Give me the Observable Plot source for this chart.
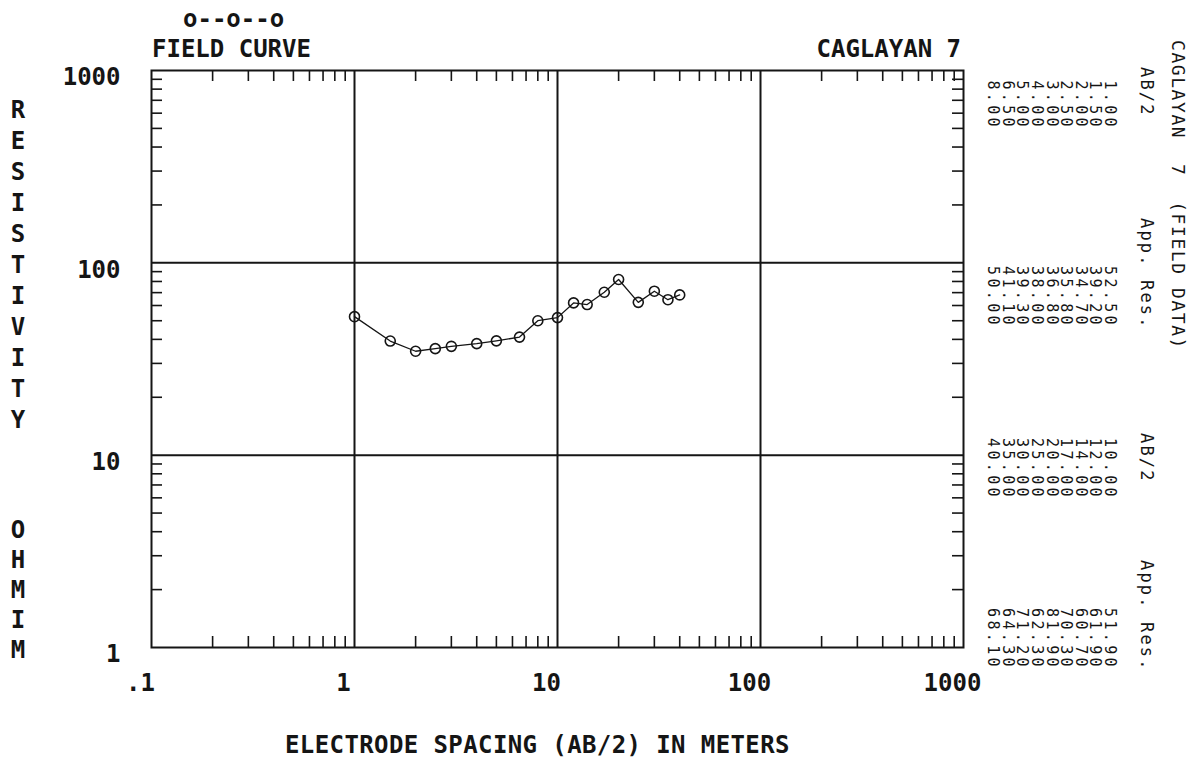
<!DOCTYPE html>
<html><head><meta charset="utf-8">
<script src="https://cdn.jsdelivr.net/npm/d3@7"></script>
<script src="https://cdn.jsdelivr.net/npm/@observablehq/plot@0.6"></script>
<style>
body{margin:0;background:#fff}
#chart svg{overflow:visible;display:block}
</style>
</head><body><div id="chart"></div>
<script>
// ---- data (read from the sheet) ----
const ab2 = [1.0, 1.5, 2.0, 2.5, 3.0, 4.0, 5.0, 6.5, 8.0, 10, 12, 14, 17, 20, 25, 30, 35, 40];
const appRes = [52.5, 39.2, 34.7, 35.8, 36.8, 38.0, 39.3, 41.1, 50.0, 51.9, 61.9, 60.7, 70.3, 81.9, 62.3, 71.2, 64.3, 68.1];
const xTicks = [0.1, 1, 10, 100, 1000];
const xTickLabels = [".1", "1", "10", "100", "1000"];
const yTicks = [1, 10, 100, 1000];
const yTickLabels = ["1", "10", "100", "1000"];
const xGrid = [1, 10, 100];
const yGrid = [10, 100];
const minorMult = [2, 3, 4, 5, 6, 7, 8, 9];
const xDecades = [0.1, 1, 10, 100];
const yDecades = [1, 10, 100];
const title = "CAGLAYAN 7";
const sheetTitle = "CAGLAYAN  7  (FIELD DATA)";
const legendText = "o--o--o";
const curveLabel = "FIELD CURVE";
const xLabel = "ELECTRODE SPACING (AB/2) IN METERS";
const yLabel1 = ["R","E","S","I","S","T","I","V","I","T","Y"];
const yLabel2 = ["O","H","M","I","M"];

const data = ab2.map((x, i) => ({x, y: appRes[i]}));
const minorX = xDecades.flatMap(d => minorMult.map(m => d * m));
const minorY = yDecades.flatMap(d => minorMult.map(m => d * m));

// ---- layout ----
const W = 1192, H = 764;
const mL = 151, mR = 229, mT = 70, mB = 117;
const innerW = W - mL - mR, innerH = H - mT - mB;
const ink = "#151515";
const font = "'DejaVu Sans Mono', 'Liberation Mono', monospace";
const tickLen = 11;

const plot = Plot.plot({
  width: W, height: H,
  marginLeft: mL, marginRight: mR, marginTop: mT, marginBottom: mB,
  style: {fontFamily: font, fontSize: "24px", fontWeight: "bold", color: ink, background: "#fff"},
  x: {type: "log", domain: [0.1, 1000]},
  y: {type: "log", domain: [1, 1000]},
  marks: [
    Plot.ruleX(xGrid, {stroke: ink, strokeWidth: 2}),
    Plot.ruleY(yGrid, {stroke: ink, strokeWidth: 2}),
    Plot.frame({stroke: ink, strokeWidth: 2}),
    // minor ticks, pointing inward on all four sides
    Plot.tickX(minorX, {x: d => d, insetTop: innerH - tickLen, stroke: ink, strokeWidth: 1.6}),
    Plot.tickX(minorX, {x: d => d, insetBottom: innerH - tickLen, stroke: ink, strokeWidth: 1.6}),
    Plot.tickY(minorY, {y: d => d, insetRight: innerW - tickLen, stroke: ink, strokeWidth: 1.6}),
    Plot.tickY(minorY, {y: d => d, insetLeft: innerW - tickLen, stroke: ink, strokeWidth: 1.6}),
    Plot.axisX(xTicks, {anchor: "bottom", tickSize: 0, tickPadding: 26, dx: -11, label: null,
      tickFormat: d => xTickLabels[xTicks.indexOf(d)], fontSize: 24}),
    Plot.axisY(yTicks, {anchor: "left", tickSize: 0, tickPadding: 31, dy: 7, label: null,
      tickFormat: d => yTickLabels[yTicks.indexOf(d)], fontSize: 24}),
    Plot.line(data, {x: "x", y: "y", stroke: ink, strokeWidth: 1.3}),
    Plot.dot(data, {x: "x", y: "y", r: 5, stroke: ink, strokeWidth: 1.6, fill: "none"})
  ]
});
document.getElementById("chart").appendChild(plot);

// ---- annotations ----
const svg = d3.select(plot);
const g = svg.append("g").attr("font-family", font).attr("fill", ink)
  .attr("text-anchor", "start").attr("font-weight", "bold");

function txt(x, y, s, size, anchor = "start", extra = {}) {
  const t = g.append("text").attr("x", x).attr("y", y).attr("font-size", size)
    .attr("text-anchor", anchor).text(s);
  for (const k in extra) t.attr(k, extra[k]);
  return t;
}

txt(183, 27, legendText, 24);
txt(152, 57, curveLabel, 24);
txt(961, 57, title, 24, "end");
txt(285, 753, xLabel, 24, "start", {"letter-spacing": 0.4});

yLabel1.forEach((c, i) => txt(18, 110 + i * 31, c, 24, "middle", {"dominant-baseline": "central"}));
yLabel2.forEach((c, i) => txt(18, 530 + i * 30, c, 24, "middle", {"dominant-baseline": "central"}));

// rotated data listing on the right (plotter text, reads top to bottom)
const adv = 12.4;
function rot(x, yStart, s, size) {
  const ls = adv - size * 0.602;
  g.append("text")
    .attr("transform", `translate(${x},${yStart}) rotate(90)`)
    .attr("text-anchor", "start")
    .attr("font-size", size)
    .attr("font-weight", "normal")
    .attr("letter-spacing", ls)
    .attr("dominant-baseline", "central")
    .style("white-space", "pre")
    .text(s);
}
rot(1178, 40, sheetTitle, 18);

const groups = [
  {label: "AB/2", start: 67, end: 130, vals: ab2.slice(0, 9)},
  {label: "App. Res.", start: 218, end: 328, vals: appRes.slice(0, 9)},
  {label: "AB/2", start: 433, end: 500, vals: ab2.slice(9)},
  {label: "App. Res.", start: 560, end: 670, vals: appRes.slice(9)}
];
const lineStep = 14.6;
groups.forEach(gr => {
  rot(1147, gr.start, gr.label, 17);
  gr.vals.forEach((v, i) => {
    const s = v.toFixed(2);
    rot(1110 - i * lineStep, gr.end - s.length * adv, s, 15);
  });
});
</script>
</body></html>
